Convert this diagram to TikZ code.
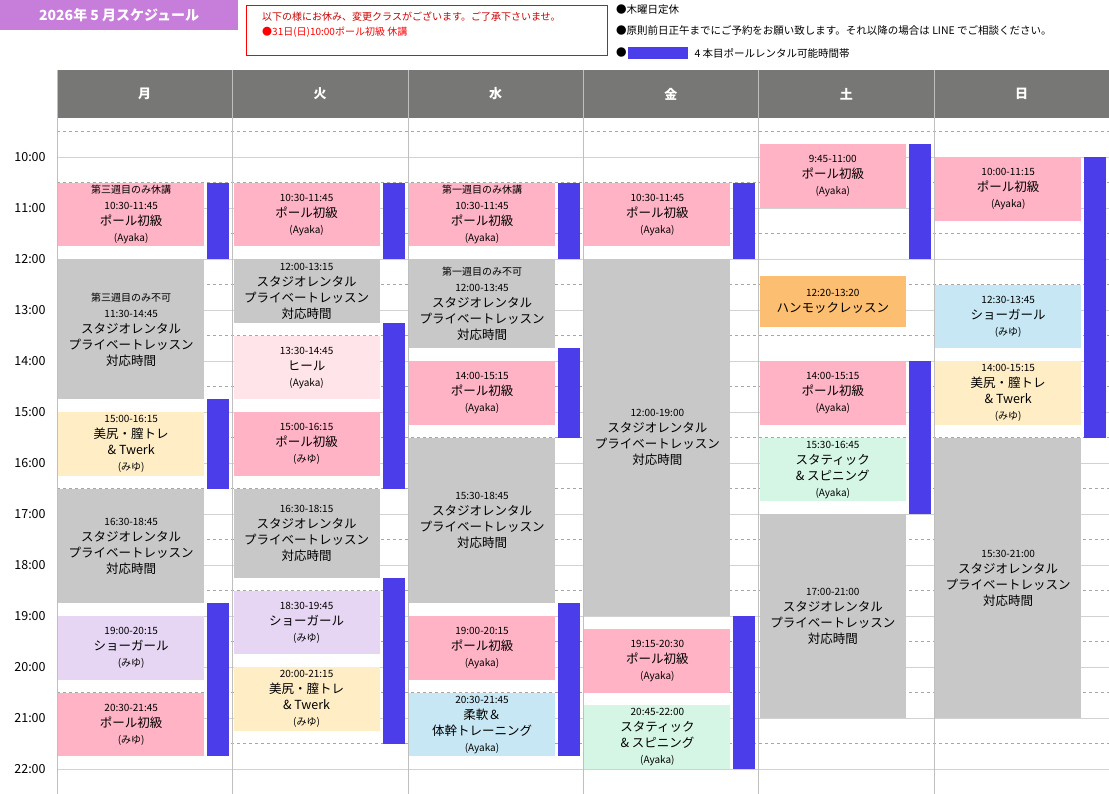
\documentclass[tikz,border=0pt]{standalone}
\usepackage{fontspec}
\setmainfont{Noto Sans CJK JP}
\usetikzlibrary{positioning}
\definecolor{hdgray}{HTML}{777875}
\definecolor{pinkc}{HTML}{FFB3C5}
\definecolor{grayc}{HTML}{C8C8C8}
\definecolor{yellowc}{HTML}{FFEDC6}
\definecolor{purplec}{HTML}{E6D6F3}
\definecolor{lpinkc}{HTML}{FFE5EA}
\definecolor{lbluec}{HTML}{C6E7F3}
\definecolor{mintc}{HTML}{D5F5E5}
\definecolor{orangec}{HTML}{FCBE70}
\definecolor{barc}{HTML}{4C3DEA}
\definecolor{titlec}{HTML}{C77DDA}
\newcommand\sm[1]{{\fontsize{10}{13}\selectfont #1}}
\newcommand\lesson[6]{% name, column, start, end, style, text
  \pgfmathsetmacro\xa{57+175.4*#2+1}
  \pgfmathsetmacro\ya{157+(#3-10)*51}
  \pgfmathsetmacro\yb{157+(#4-10)*51}
  \node[#5, minimum height={\yb pt-\ya pt}, anchor=north west] (#1) at (\xa,\ya) {#6};}
\newcommand\rentbar[4]{% name, column, start, end
  \pgfmathsetmacro\xa{57+175.4*#2+150}
  \pgfmathsetmacro\ya{157+(#3-10)*51}
  \pgfmathsetmacro\yb{157+(#4-10)*51}
  \node[rent, minimum height={\yb pt-\ya pt}, anchor=north west] (#1) at (\xa,\ya) {};}
\begin{document}
\begin{tikzpicture}[x=1pt,y=-1pt,
  every node/.style={inner sep=0pt},
  block/.style={minimum width=146pt, align=center, font=\fontsize{12.5}{16}\selectfont},
  pole/.style={block, fill=pinkc},
  rental/.style={block, fill=grayc},
  twerk/.style={block, fill=yellowc},
  show/.style={block, fill=purplec},
  heel/.style={block, fill=lpinkc},
  flex/.style={block, fill=lbluec},
  spin/.style={block, fill=mintc},
  hammock/.style={block, fill=orangec},
  rent/.style={minimum width=22pt, fill=barc},
  day/.style={text=white, font=\bfseries\fontsize{13}{15}\selectfont},
  hour/.style={font=\fontsize{12.5}{15}\selectfont}]
\useasboundingbox (0,0) rectangle (1109,794);
% title and notes
\node[fill=titlec, text=white, minimum width=238pt, minimum height=30pt, anchor=north west,
  font=\bfseries\fontsize{14}{16}\selectfont] (title) at (0,0) {2026年 5 月スケジュール};
\node[draw=red, line width=1pt, minimum width=361pt, minimum height=50pt, anchor=north west] (notice) at (246,5) {};
\node[anchor=north west, font=\fontsize{10}{13}\selectfont, align=left, text=red!80!black] (noticetext) at (262,12)
  {以下の様にお休み、変更クラスがございます。ご了承下さいませ。\\[2pt]\textcolor{red}{●31日(日)10:00ポール初級 休講}};
\node[anchor=west, font=\fontsize{10.5}{13}\selectfont] (note1) at (616,10) {●木曜日定休};
\node[anchor=west, font=\fontsize{10.5}{13}\selectfont] (note2) at (616,31) {●原則前日正午までにご予約をお願い致します。それ以降の場合は LINE でご相談ください。};
\node[anchor=west, font=\fontsize{10.5}{13}\selectfont] (note3) at (616,53) {●};
\node[fill=barc, minimum width=60pt, minimum height=12pt, right=1pt of note3] (legendbar) {};
\node[font=\fontsize{10.5}{13}\selectfont, right=6pt of legendbar] (legendtext) {4 本目ポールレンタル可能時間帯};
% header
\fill[hdgray] (57,70) rectangle (1109,118);
\foreach \d [count=\i from 0] in {月,火,水,金,土,日}
  \node[day] (day\i) at (57+175.4*\i+87.7,94) {\d};
% grid
\foreach \h in {9.5,10.5,...,22.5}
  \draw[gray!70, dashed] (57,157+51*\h-510) -- (1109,157+51*\h-510);
\foreach \h in {10,...,22} {
  \draw[gray!35] (57,157+51*\h-510) -- (1109,157+51*\h-510);
  \node[hour] (t\h) at (30,157+51*\h-510) {\h:00};
}
\foreach \i in {0,...,6}
  \draw[gray!50] (57+175.4*\i,70) -- (57+175.4*\i,794);
% Monday
\lesson{mon1}{0}{10.5}{11.75}{pole}{\sm{第三週目のみ休講}\\\sm{10:30-11:45}\\ポール初級\\\sm{(Ayaka)}}
\lesson{mon2}{0}{12}{14.75}{rental}{\sm{第三週目のみ不可}\\\sm{11:30-14:45}\\スタジオレンタル\\プライベートレッスン\\対応時間}
\lesson{mon3}{0}{15}{16.25}{twerk}{\sm{15:00-16:15}\\美尻・膣トレ\\\& Twerk\\\sm{(みゆ)}}
\lesson{mon4}{0}{16.5}{18.75}{rental}{\sm{16:30-18:45}\\スタジオレンタル\\プライベートレッスン\\対応時間}
\lesson{mon5}{0}{19}{20.25}{show}{\sm{19:00-20:15}\\ショーガール\\\sm{(みゆ)}}
\lesson{mon6}{0}{20.5}{21.75}{pole}{\sm{20:30-21:45}\\ポール初級\\\sm{(みゆ)}}
\rentbar{monb1}{0}{10.5}{12}
\rentbar{monb2}{0}{14.75}{16.5}
\rentbar{monb3}{0}{18.75}{21.75}
% Tuesday
\lesson{tue1}{1}{10.5}{11.75}{pole}{\sm{10:30-11:45}\\ポール初級\\\sm{(Ayaka)}}
\lesson{tue2}{1}{12}{13.25}{rental}{\sm{12:00-13:15}\\スタジオレンタル\\プライベートレッスン\\対応時間}
\lesson{tue3}{1}{13.5}{14.75}{heel}{\sm{13:30-14:45}\\ヒール\\\sm{(Ayaka)}}
\lesson{tue4}{1}{15}{16.25}{pole}{\sm{15:00-16:15}\\ポール初級\\\sm{(みゆ)}}
\lesson{tue5}{1}{16.5}{18.25}{rental}{\sm{16:30-18:15}\\スタジオレンタル\\プライベートレッスン\\対応時間}
\lesson{tue6}{1}{18.5}{19.75}{show}{\sm{18:30-19:45}\\ショーガール\\\sm{(みゆ)}}
\lesson{tue7}{1}{20}{21.25}{twerk}{\sm{20:00-21:15}\\美尻・膣トレ\\\& Twerk\\\sm{(みゆ)}}
\rentbar{tueb1}{1}{10.5}{12}
\rentbar{tueb2}{1}{13.25}{16.5}
\rentbar{tueb3}{1}{18.25}{21.5}
% Wednesday
\lesson{wed1}{2}{10.5}{11.75}{pole}{\sm{第一週目のみ休講}\\\sm{10:30-11:45}\\ポール初級\\\sm{(Ayaka)}}
\lesson{wed2}{2}{12}{13.75}{rental}{\sm{第一週目のみ不可}\\\sm{12:00-13:45}\\スタジオレンタル\\プライベートレッスン\\対応時間}
\lesson{wed3}{2}{14}{15.25}{pole}{\sm{14:00-15:15}\\ポール初級\\\sm{(Ayaka)}}
\lesson{wed4}{2}{15.5}{18.75}{rental}{\sm{15:30-18:45}\\スタジオレンタル\\プライベートレッスン\\対応時間}
\lesson{wed5}{2}{19}{20.25}{pole}{\sm{19:00-20:15}\\ポール初級\\\sm{(Ayaka)}}
\lesson{wed6}{2}{20.5}{21.75}{flex}{\sm{20:30-21:45}\\柔軟＆\\体幹トレーニング\\\sm{(Ayaka)}}
\rentbar{wedb1}{2}{10.5}{12}
\rentbar{wedb2}{2}{13.75}{15.5}
\rentbar{wedb3}{2}{18.75}{21.75}
% Friday
\lesson{fri1}{3}{10.5}{11.75}{pole}{\sm{10:30-11:45}\\ポール初級\\\sm{(Ayaka)}}
\lesson{fri2}{3}{12}{19}{rental}{\sm{12:00-19:00}\\スタジオレンタル\\プライベートレッスン\\対応時間}
\lesson{fri3}{3}{19.25}{20.5}{pole}{\sm{19:15-20:30}\\ポール初級\\\sm{(Ayaka)}}
\lesson{fri4}{3}{20.75}{22}{spin}{\sm{20:45-22:00}\\スタティック\\\& スピニング\\\sm{(Ayaka)}}
\rentbar{frib1}{3}{10.5}{12}
\rentbar{frib2}{3}{19}{22}
% Saturday
\lesson{sat1}{4}{9.75}{11}{pole}{\sm{9:45-11:00}\\ポール初級\\\sm{(Ayaka)}}
\lesson{sat2}{4}{12.333}{13.333}{hammock}{\sm{12:20-13:20}\\ハンモックレッスン}
\lesson{sat3}{4}{14}{15.25}{pole}{\sm{14:00-15:15}\\ポール初級\\\sm{(Ayaka)}}
\lesson{sat4}{4}{15.5}{16.75}{spin}{\sm{15:30-16:45}\\スタティック\\\& スピニング\\\sm{(Ayaka)}}
\lesson{sat5}{4}{17}{21}{rental}{\sm{17:00-21:00}\\スタジオレンタル\\プライベートレッスン\\対応時間}
\rentbar{satb1}{4}{9.75}{12}
\rentbar{satb2}{4}{14}{17}
% Sunday
\lesson{sun1}{5}{10}{11.25}{pole}{\sm{10:00-11:15}\\ポール初級\\\sm{(Ayaka)}}
\lesson{sun2}{5}{12.5}{13.75}{flex}{\sm{12:30-13:45}\\ショーガール\\\sm{(みゆ)}}
\lesson{sun3}{5}{14}{15.25}{twerk}{\sm{14:00-15:15}\\美尻・膣トレ\\\& Twerk\\\sm{(みゆ)}}
\lesson{sun4}{5}{15.5}{21}{rental}{\sm{15:30-21:00}\\スタジオレンタル\\プライベートレッスン\\対応時間}
\rentbar{sunb1}{5}{10}{15.5}
\end{tikzpicture}
\end{document}
